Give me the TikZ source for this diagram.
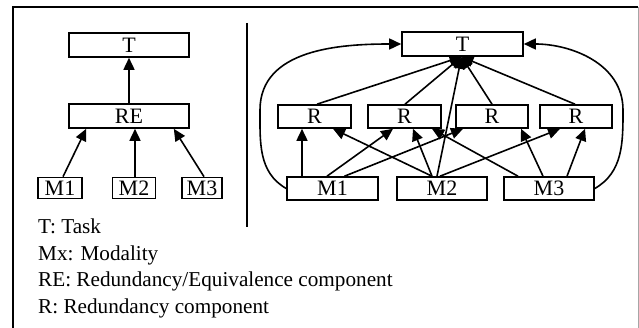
\documentclass[tikz,border=0pt]{standalone}
\usepackage{fontspec}
\setmainfont{Liberation Serif}
\usetikzlibrary{arrows.meta}
\begin{document}
\begin{tikzpicture}[x=1pt,y=-1pt,
  every node/.style={font=\fontsize{22}{26}\selectfont},
  box/.style={draw,line width=1.6pt,inner sep=0pt,anchor=center},
  link/.style={line width=1.6pt,-{Triangle[length=12pt,width=11pt]}},
  legend/.style={anchor=base west,inner sep=0pt,font=\fontsize{21.2}{25}\selectfont}]
\useasboundingbox (0,0) rectangle (639,328);
% outer frame (its bottom edge lies below the page)
\draw[line width=1.6pt] (13,335) -- (13,7) -- (638,7);
\draw[line width=0.8pt,gray!70] (638,7) -- (638,335);
% divider between the two structures
\draw[line width=1.6pt] (247,23) -- (247,227);

% ---- left: redundancy/equivalence ----
\node[box,minimum width=120pt,minimum height=24pt] (lT) at (129,45) {T};
\node[box,minimum width=120pt,minimum height=24pt] (lRE) at (129,116) {RE};
\node[box,minimum width=44pt,minimum height=21pt] (lM1) at (60,188) {M1};
\node[box,minimum width=43pt,minimum height=21pt] (lM2) at (134,188) {M2};
\node[box,minimum width=40pt,minimum height=21pt] (lM3) at (202,188) {M3};
\draw[link] (lRE.north) -- (lT.south);
\draw[link] ([xshift=3pt]lM1.north) -- ([xshift=18pt]lRE.south west);
\draw[link] ([xshift=1pt]lM2.north) -- ([xshift=6pt]lRE.south);
\draw[link] ([xshift=2pt]lM3.north) -- ([xshift=-16pt]lRE.south east);

% ---- right: redundancy components ----
\node[box,minimum width=121pt,minimum height=24pt] (rT) at (462.5,44) {T};
\node[box,minimum width=73pt,minimum height=23pt] (R1) at (314.5,116.5) {R};
\node[box,minimum width=73pt,minimum height=23pt] (R2) at (404.5,116.5) {R};
\node[box,minimum width=72pt,minimum height=23pt] (R3) at (492,116.5) {R};
\node[box,minimum width=72pt,minimum height=23pt] (R4) at (576,116.5) {R};
\node[box,minimum width=91pt,minimum height=23pt] (rM1) at (332.5,188.5) {M1};
\node[box,minimum width=90pt,minimum height=23pt] (rM2) at (442,188.5) {M2};
\node[box,minimum width=90pt,minimum height=23pt] (rM3) at (549,188.5) {M3};
\coordinate (tip) at ([xshift=-1pt]rT.south);

% components up to the task
\draw[link] ([xshift=2.5pt]R1.north) -- (tip);
\draw[link] ([xshift=0.5pt]R2.north) -- (tip);
\draw[link] (R3.north) -- (tip);
\draw[link] ([xshift=-1pt]R4.north) -- (tip);
\draw[link] ([xshift=-5pt]rM2.north) -- (tip);

% modalities up to the components
\draw[link] ([xshift=-30.5pt]rM1.north) -- ([xshift=-12.5pt]R1.south);
\draw[link] ([xshift=-5.5pt]rM1.north) -- ([xshift=-11.5pt]R2.south);
\draw[link] ([xshift=12pt]rM1.north) -- ([xshift=-29pt]R3.south);
\draw[link] ([xshift=-10pt]rM2.north) -- ([xshift=18.5pt]R1.south);
\draw[link] ([xshift=-10pt]rM2.north) -- ([xshift=8.5pt]R2.south);
\draw[link] ([xshift=-2pt]rM2.north) -- ([xshift=-16pt]R4.south);
\draw[link] ([xshift=-31pt]rM3.north) -- ([xshift=27.5pt]R2.south);
\draw[link] ([xshift=-6pt]rM3.north) -- ([xshift=29pt]R3.south);
\draw[link] ([xshift=18pt]rM3.north) -- ([xshift=9pt]R4.south);

% outer modalities straight to the task
\draw[link] (rM1.west) to[out=150,in=-90] (260,110) to[out=90,in=180] (rT.west);
\draw[link] (rM3.east) to[out=30,in=-90] (623,110) to[out=90,in=0] (rT.east);

% ---- legend ----
\node[legend] (k1) at (38,234) {T: Task};
\node[legend] (k2) at (38,260.5) {Mx: Modality};
\node[legend] (k3) at (38,287) {RE: Redundancy/Equivalence component};
\node[legend] (k4) at (38,313) {R: Redundancy component};
\end{tikzpicture}
\end{document}
